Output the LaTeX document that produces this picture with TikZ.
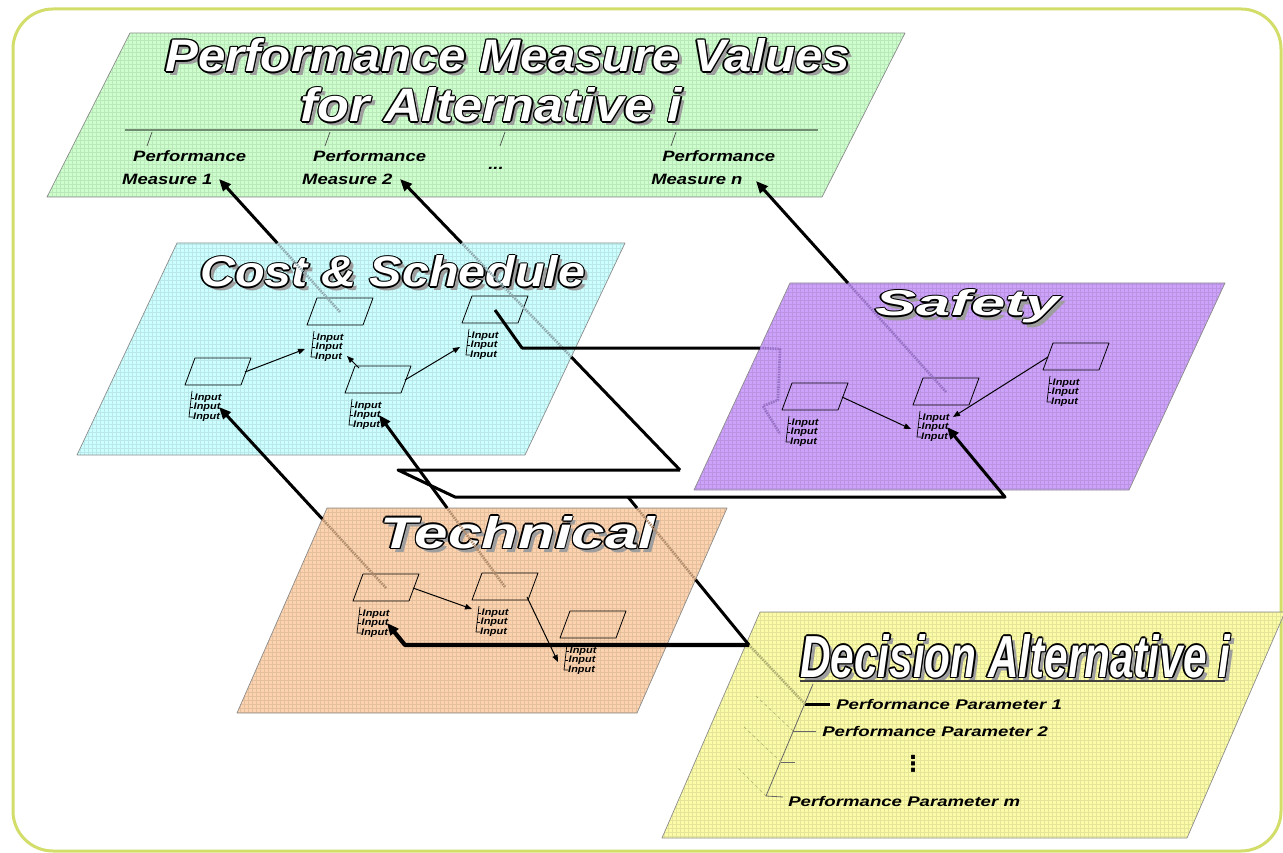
\documentclass[tikz,border=0pt]{standalone}
\usepackage{fontspec}
\setsansfont{Liberation Sans}
\newfontfamily\symfont{DejaVu Sans Bold}
\usepackage{graphicx}
\usetikzlibrary{calc,arrows.meta}

\definecolor{framecol}{HTML}{D3DD6A}
\definecolor{pmcol}{HTML}{CCFFCC}
\definecolor{cscol}{HTML}{CCFFFF}
\definecolor{sfcol}{HTML}{CDA2FA}
\definecolor{tccol}{HTML}{FCD3AE}
\definecolor{dacol}{HTML}{FCFCA8}
\definecolor{csfade}{HTML}{8FA8AE}
\definecolor{sffade}{HTML}{9670C4}
\definecolor{tcfade}{HTML}{B08C6C}
\definecolor{dafade}{HTML}{AEAE72}

% a layer: name, colour, x top-left, x top-right, y top, y bottom, slant
\newcommand\plane[7]{%
  \coordinate (#1-tl) at (#3,#5);
  \coordinate (#1-tr) at (#4,#5);
  \coordinate (#1-br) at ({#4-#7},#6);
  \coordinate (#1-bl) at ({#3-#7},#6);
  \fill[#2] (#1-tl) -- (#1-tr) -- (#1-br) -- (#1-bl) -- cycle;
  \begin{scope}
    \clip (#1-tl) -- (#1-tr) -- (#1-br) -- (#1-bl) -- cycle;
    \draw[#2!91!black, line width=0.25pt] ({#3-#7},#6) grid[step=4pt] (#4,#5);
  \end{scope}
  \draw[planeedge] (#1-tl) -- (#1-tr) -- (#1-br) -- (#1-bl) -- cycle;
}

% shadowed, outlined heading text: width, height, text
\newcommand\waitem[3]{\rlap{\kern#1\raisebox{#2}{#3}}}
\newcommand\wordart[3]{%
  \def\wordartbox{\resizebox{#1}{#2}{#3}}%
  \waitem{4pt}{-4pt}{\color{black!38}\wordartbox}%
  \waitem{1.4pt}{0pt}{\color{black}\wordartbox}%
  \waitem{-1.4pt}{0pt}{\color{black}\wordartbox}%
  \waitem{0pt}{1.4pt}{\color{black}\wordartbox}%
  \waitem{0pt}{-1.4pt}{\color{black}\wordartbox}%
  \waitem{1pt}{1pt}{\color{black}\wordartbox}%
  \waitem{-1pt}{1pt}{\color{black}\wordartbox}%
  \waitem{1pt}{-1pt}{\color{black}\wordartbox}%
  \waitem{-1pt}{-1pt}{\color{black}\wordartbox}%
  {\color{white}\wordartbox}}

\tikzset{
  planeedge/.style={draw=black!45, line width=0.7pt},
  boxline/.style={draw=black, line width=0.8pt},
  inlab/.style={font=\sffamily\bfseries\itshape\fontsize{9.5}{10}\selectfont,
    inner sep=0pt, anchor=west, xscale=1.15},
  lab/.style={font=\sffamily\bfseries\itshape\fontsize{15}{17}\selectfont,
    inner sep=0pt, anchor=base west, xscale=1.23},
  plab/.style={font=\sffamily\bfseries\itshape\fontsize{14}{16}\selectfont,
    inner sep=0pt, anchor=base west, xscale=1.33},
  wa/.style={anchor=base west, inner sep=0pt, font=\sffamily\bfseries\itshape},
  link/.style={draw=black, line width=3pt},
  tip/.style={-{Triangle[length=12pt,width=10pt]}},
  fade/.style={draw=#1, line width=2.6pt, dash pattern=on 1.5pt off 1pt},
  flow/.style={draw=black, line width=1pt, -{Triangle[length=7pt,width=5.5pt]}},
  proc/.pic={
    \draw[boxline] (0,0) -- (56,0) -- (66,-27) -- (10,-27) -- cycle;
    \coordinate (-c) at (33,-13);
    \coordinate (-r) at (60,-13);
    \coordinate (-l) at (5,-13);
    \coordinate (-tl) at (14,-25);
    \coordinate (-rb) at (55,-3);
    \draw[line width=0.7pt] (7,6) -- (4,32) -- (8,32);
    \draw[line width=0.7pt] (6.2,13) -- (9,13);
    \draw[line width=0.7pt] (5.1,22) -- (8,22);
    \node[inlab] (-in1) at (9.5,13) {Input};
    \node[inlab] (-in2) at (8.5,22) {Input};
    \node[inlab] (-in3) at (8,32) {Input};
    \coordinate (-ia) at (-2,24);
    \coordinate (-ib) at (0,9);
    \coordinate (-ie1) at (40,12);
    \coordinate (-ie2) at (34,22);
    \coordinate (-ie3) at (40,31);
  }
}

\begin{document}
\begin{tikzpicture}[x=1pt, y=-1pt, line join=round]
\useasboundingbox (0,0) rectangle (1283,853);
\fill[white] (0,0) rectangle (1283,853);
\draw[framecol, line width=3pt, rounded corners=40pt] (13,9) rectangle (1281,851);

% layers
\plane{pm}{pmcol}{130}{905}{33}{197}{83}
\plane{cs}{cscol}{177}{625}{243}{455}{100}
\plane{sf}{sfcol}{790}{1225}{283}{490}{96}
\plane{tc}{tccol}{327}{727}{508}{713}{90}
\plane{da}{dacol}{760}{1285}{612}{838}{98}

% headings
\node[wa] (pmtitle) at (165,72) {\wordart{685pt}{33pt}{Performance Measure Values}};
\node[wa] (pmtitleb) at (300,122) {\wordart{382pt}{34pt}{for Alternative i}};
\node[wa] (cstitle) at (200,287) {\wordart{385pt}{31pt}{Cost \& Schedule}};
\node[wa] (sftitle) at (875,316) {\wordart{185pt}{26pt}{Safety}};
\node[wa] (tctitle) at (380,548) {\wordart{275pt}{32pt}{Technical}};
\node[wa] (datitle) at (800,677) {\wordart{430pt}{43pt}{Decision Alternative i}};

% performance measures
\draw[draw=black!45!pmcol, line width=1.5pt] (125,130) -- (818,130);
\foreach \tx in {152,330,505,676}
  \draw[line width=0.7pt, black!70] (\tx,132) -- ({\tx-5},146);
\node[lab] (pf1) at (133,162) {Performance};
\node[lab] (pf2) at (313,162) {Performance};
\node[lab] (pf3) at (662,162) {Performance};
\node[lab] (ms1) at (122,185) {Measure 1};
\node[lab] (ms2) at (302,185) {Measure 2};
\node[lab] (msn) at (651,185) {Measure n};
\node[lab] (pmdots) at (488,170) {...};
\coordinate (pm1) at (219,179);
\coordinate (pm2) at (400,179);
\coordinate (pmn) at (756,181);

% decision alternative parameters
\draw[black!75, line width=1.2pt] (800,681) -- (1225,681);
\coordinate (ppstem) at (813,684);
\coordinate (pp1) at (805,704);
\coordinate (pp2) at (793,731);
\coordinate (pp3) at (781,762);
\coordinate (ppm) at (766,796);
\draw[black!60, line width=0.8pt] (ppstem) -- (ppm);
\draw[black, line width=3pt] (pp1) -- (830,704);
\draw[black!60, line width=0.8pt] (pp2) -- (816,731);
\draw[black!60, line width=0.8pt] (pp3) -- (795,762);
\draw[black!60, line width=0.8pt] (ppm) -- (783,797);
\node[plab] (ppt1) at (836,709) {Performance Parameter 1};
\node[plab] (ppt2) at (822,736) {Performance Parameter 2};
\node[plab] (pptm) at (788,806) {Performance Parameter m};
\node[font=\symfont\fontsize{22}{22}\selectfont, inner sep=0pt] (ppdots) at (913,764) {⋮};
\foreach \pt in {pp2,pp3}
  \draw[dafade, line width=0.6pt, dashed] (\pt) -- ++(-38,-36);
\draw[dafade, line width=0.6pt, dashed] (ppm) -- ++(-30,-30);

% process boxes
\pic (cs1) at (185,385) {proc};
\pic (cs2) at (307,325) {proc};
\pic (cs3) at (462,323) {proc};
\pic (cs4) at (345,393) {proc};
\pic (s1) at (782,410) {proc};
\pic (s2) at (913,405) {proc};
\pic (s3) at (1043,370) {proc};
\pic (t1) at (353,601) {proc};
\pic (t2) at (472,600) {proc};
\pic (t3) at (560,638) {proc};

% links inside layers
\draw[flow] (cs1-r) -- (cs2-ia);
\draw[flow] (cs4-tl) -- (cs2-ie3);
\draw[flow] (cs4-r) -- (cs3-ia);
\draw[flow] (s1-r) -- (s2-ia);
\draw[flow] (s3-l) -- (s2-ie1);
\draw[flow] (t1-r) -- (t2-ib);
\draw[flow] (t2-rb) -- (t3-ia);

% measure 1 from cost & schedule
\coordinate (x1) at (intersection of cs2-c--pm1 and cs-tl--cs-tr);
\draw[fade=csfade] (cs2-c) -- (x1);
\draw[link,tip] (x1) -- (pm1);

% measure 2
\coordinate (k1) at (680,470);
\coordinate (x2) at (intersection of k1--pm2 and cs-tr--cs-br);
\coordinate (x3) at (intersection of k1--pm2 and cs-tl--cs-tr);
\draw[link] (k1) -- (x2);
\draw[fade=csfade] (x2) -- (x3);
\draw[link,tip] (x3) -- (pm2);

% measure n from safety
\coordinate (x4) at (intersection of s2-c--pmn and sf-tl--sf-tr);
\draw[fade=sffade] (s2-c) -- (x4);
\draw[link,tip] (x4) -- (pmn);

% cost & schedule to safety
\coordinate (k2) at (522,348);
\coordinate (k2e) at (800,348);
\coordinate (x5) at (intersection of k2--k2e and sf-tl--sf-bl);
\draw[link] (cs3-c) -- (k2) -- (x5);
\draw[fade=sffade] (x5) -- (780,349) -- (778,400) -- (763,406) -- (s1-ia);

% performance parameter 1
\coordinate (k3) at (749,645);
\coordinate (k4) at (628,497);
\coordinate (k5) at (405,645);
\coordinate (k6) at (1005,497);
\coordinate (k7) at (455,497);
\coordinate (k8) at (398,470);
\draw[fade=dafade] (pp1) -- (k3);
\draw[link, line width=4.2pt, tip] (k3) -- (k5) -- (t1-ie2);
\coordinate (x6) at (intersection of k3--k4 and tc-tr--tc-br);
\coordinate (x7) at (intersection of k3--k4 and tc-tl--tc-tr);
\draw[link] (k3) -- (x6);
\draw[fade=tcfade] (x6) -- (x7);
\draw[link] (x7) -- (k4);
\draw[link,tip] (k4) -- (k6) -- (s2-ie2);
\draw[link] (k4) -- (k7) -- (k8) -- (k1);

% technical to cost & schedule
\coordinate (x8) at (intersection of t1-c--cs1-ie2 and tc-tl--tc-bl);
\draw[fade=tcfade] (t1-c) -- (x8);
\draw[link,tip] (x8) -- (cs1-ie2);
\coordinate (x9) at (intersection of t2-c--cs4-ie2 and tc-tl--tc-tr);
\draw[fade=tcfade] (t2-c) -- (x9);
\draw[link,tip] (x9) -- (cs4-ie2);
\end{tikzpicture}
\end{document}
